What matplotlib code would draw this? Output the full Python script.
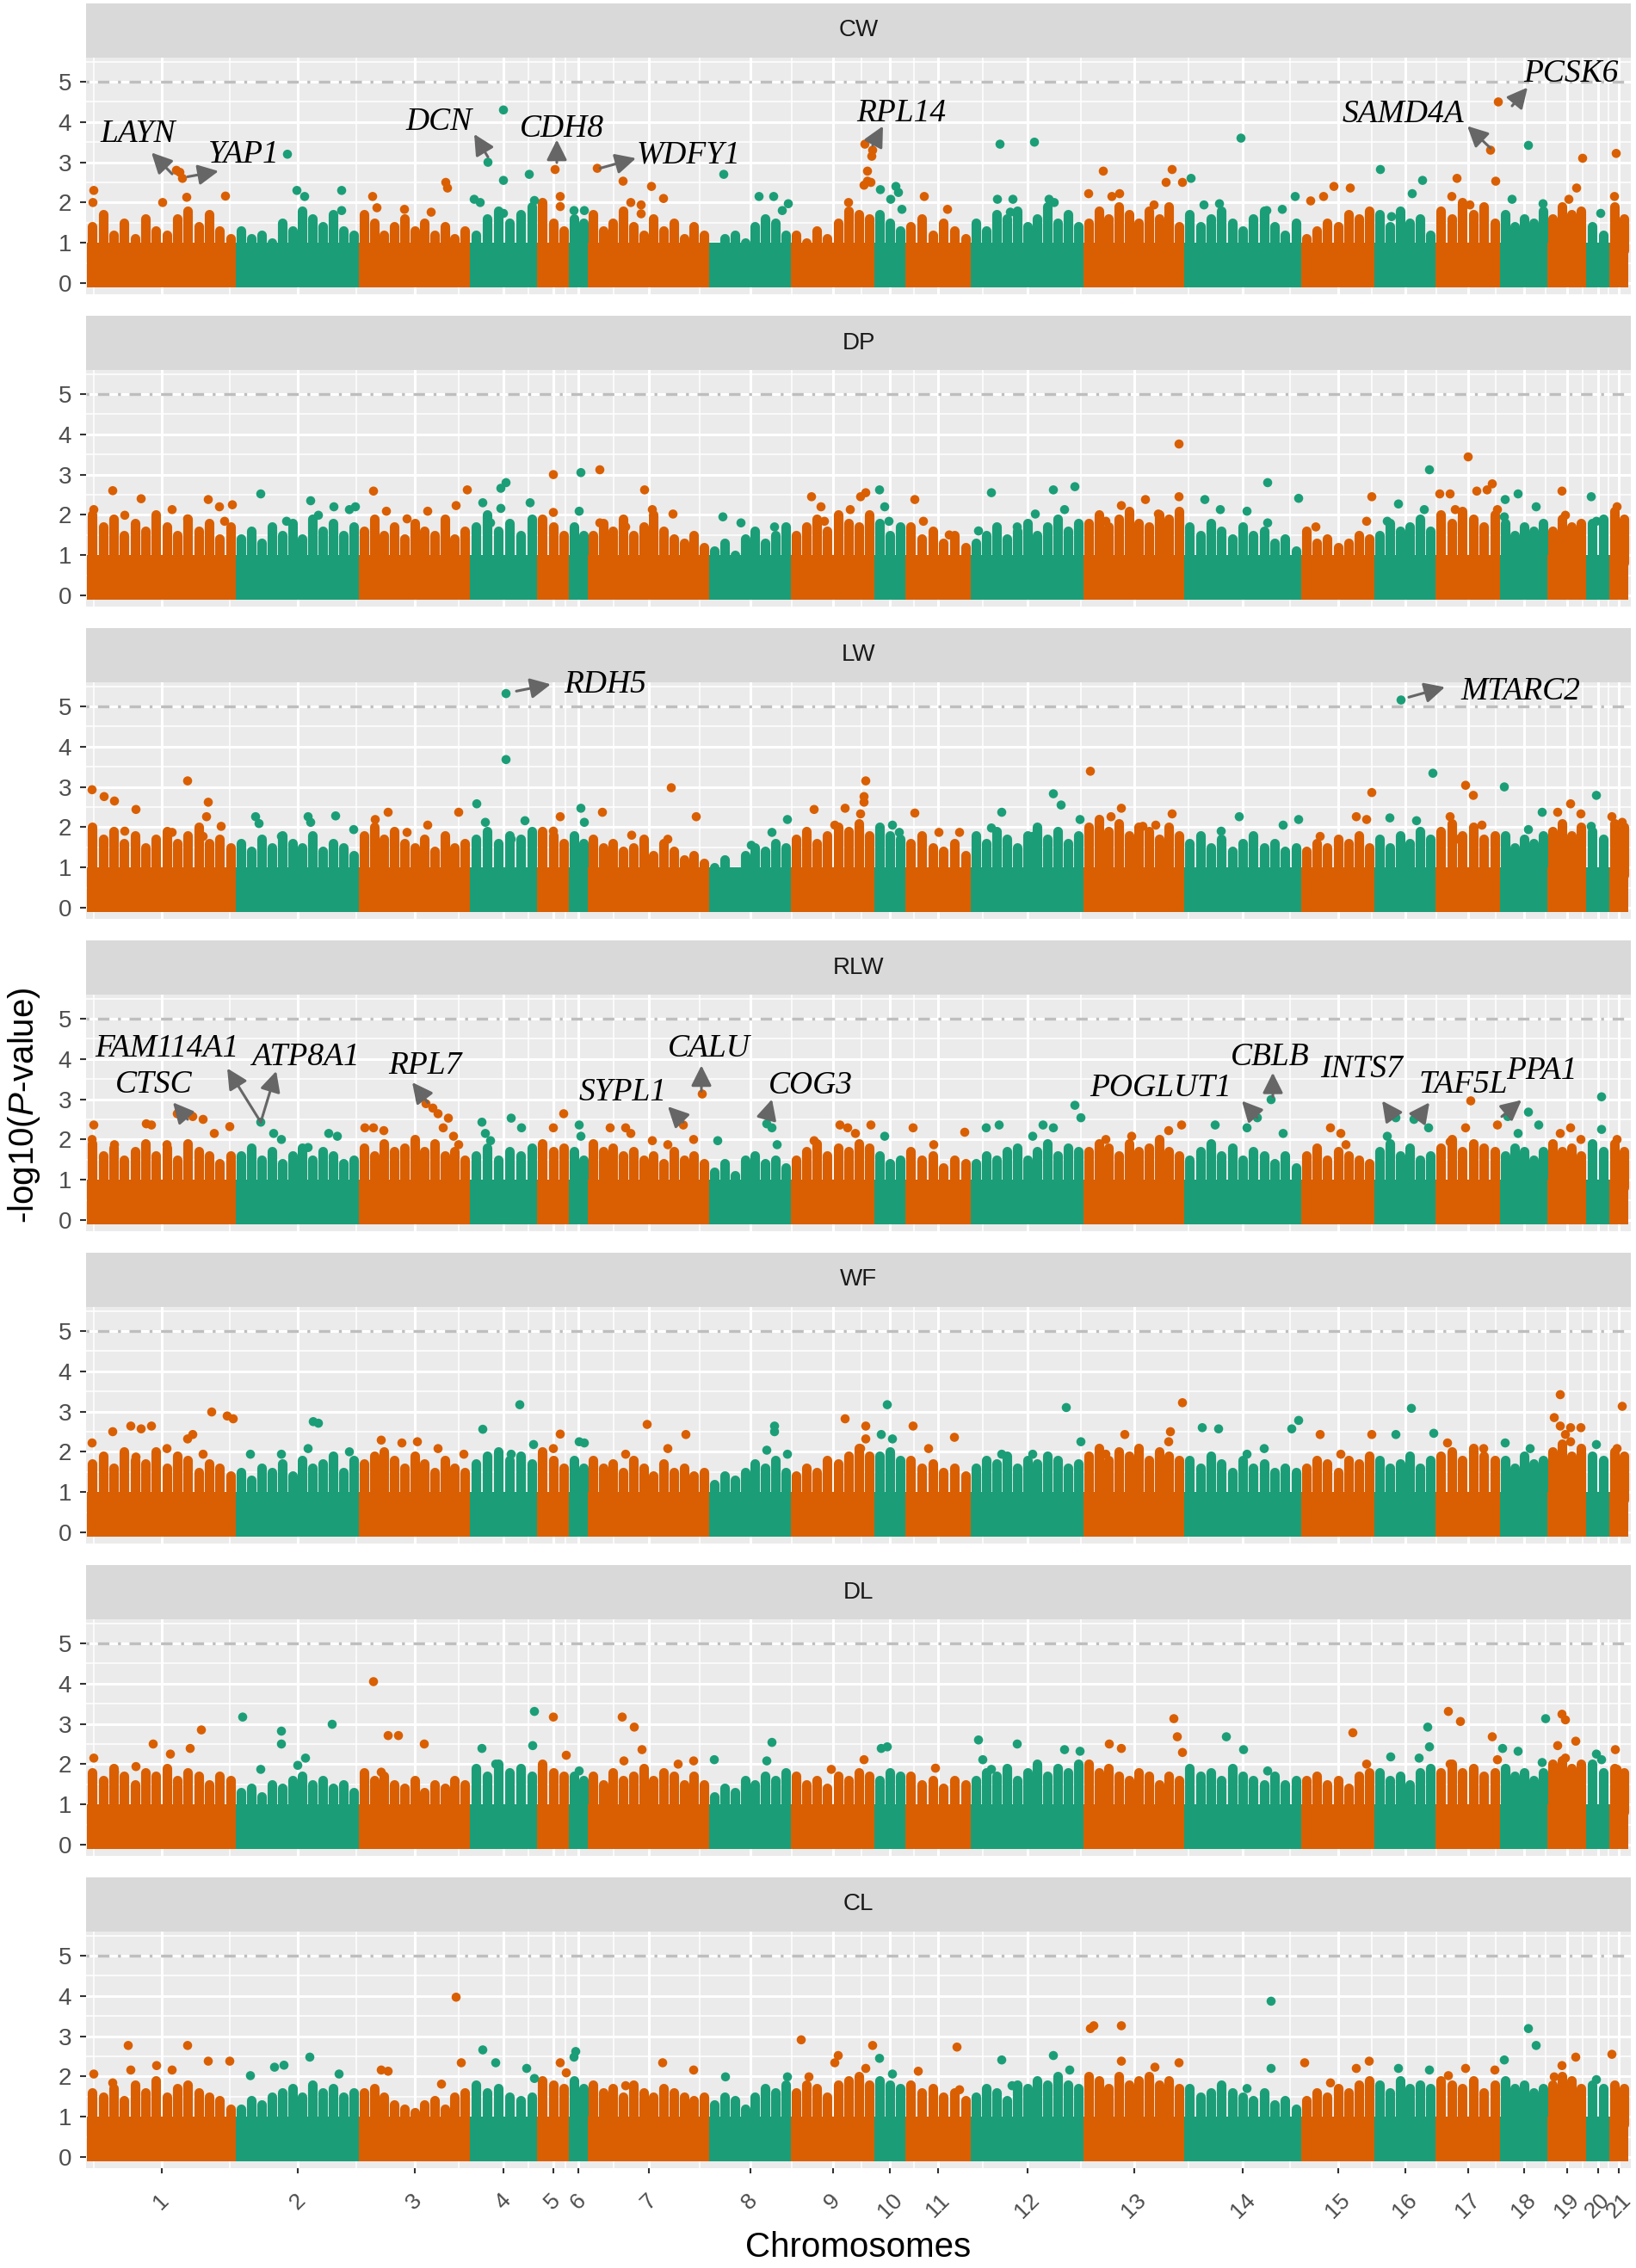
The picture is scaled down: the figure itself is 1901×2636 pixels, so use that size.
import numpy as np
import matplotlib
matplotlib.use("Agg")
import matplotlib.pyplot as plt
from matplotlib.collections import LineCollection

plt.rcParams['font.family'] = ['Liberation Sans', 'DejaVu Sans']
plt.rcParams['mathtext.fontset'] = 'custom'
plt.rcParams['mathtext.rm'] = 'Liberation Sans'
plt.rcParams['mathtext.it'] = 'Liberation Sans:italic'

# ---------------- data ----------------
CHROMS = [str(i) for i in range(1, 22)]
CHR_LEN = [173, 143, 129, 78, 37, 22, 141, 95, 97, 36, 76, 131, 117, 136, 85, 71, 75, 55, 45, 27, 22]
TRAITS = ["CW", "DP", "LW", "RLW", "WF", "DL", "CL"]
THRESHOLD = 5.0
BULK_BASE = 1.0   # level below which the SNP cloud is solid

# upper edge of the dense SNP cloud per chromosome (read left to right)
ENV_CW = [[1.4,1.7,1.2,1.5,1.1,1.6,1.3,1.2,1.6,1.8,1.4,1.7,1.3,1.1],
          [1.3,1.1,1.2,1.0,1.5,1.3,1.8,1.6,1.4,1.7,1.3,1.2],
          [1.7,1.5,1.2,1.4,1.6,1.3,1.5,1.2,1.4,1.1,1.3],
          [1.2,1.6,1.8,1.5,1.7,1.9],[2.0,1.5,1.3],[1.6,1.5],
          [1.7,1.3,1.5,1.8,1.4,1.2,1.6,1.3,1.5,1.1,1.4,1.2],
          [0.9,1.1,1.2,1.0,1.4,1.6,1.5,1.2],[1.2,1.0,1.3,1.1,1.5,1.8,1.7,1.6],[1.7,1.5,1.3],
          [1.4,1.6,1.2,1.5,1.3,1.1],[1.5,1.3,1.7,1.6,1.8,1.4,1.6,1.9,1.5,1.7,1.4],
          [1.5,1.8,1.6,1.9,1.7,1.5,1.8,1.6,1.9,1.4],[1.7,1.4,1.6,1.8,1.5,1.3,1.6,1.8,1.4,1.2,1.5],
          [1.1,1.3,1.5,1.4,1.7,1.6,1.8],[1.7,1.4,1.8,1.5,1.6,1.2],[1.8,1.6,2.0,1.7,1.9,1.5],
          [1.7,1.4,1.6,1.5,1.8],[1.6,1.9,1.7,1.8],[1.4,1.2],[1.9,1.6]]
ENV_DP = [[2.0,1.7,1.9,1.5,1.8,1.6,2.0,1.7,1.5,1.9,1.6,1.8,1.4,1.7],
          [1.4,1.6,1.3,1.7,1.5,1.8,1.4,1.9,1.6,1.8,1.5,1.7],
          [1.6,1.9,1.5,1.7,1.4,1.8,1.6,1.5,1.9,1.4,1.6],
          [1.7,2.0,1.6,1.8,1.5,1.9],[1.9,1.7,1.5],[1.7,1.5],
          [1.5,1.8,1.6,1.9,1.5,1.7,2.0,1.6,1.4,1.3,1.5,1.2],
          [1.1,1.3,1.0,1.4,1.6,1.3,1.5,1.7],[1.5,1.7,1.9,1.6,2.0,1.8,1.7,2.0],[1.8,1.5,1.7],
          [1.7,1.4,1.6,1.3,1.5,1.2],[1.3,1.5,1.7,1.4,1.6,1.8,1.5,1.7,1.9,1.6,1.8],
          [1.8,2.0,1.7,1.9,2.1,1.8,1.7,2.0,1.9,2.1],[1.7,1.5,1.8,1.6,1.4,1.7,1.5,1.6,1.3,1.4,1.1],
          [1.6,1.3,1.4,1.2,1.3,1.5,1.4],[1.5,1.8,1.6,1.7,1.9,1.6],[2.0,1.8,2.1,1.9,1.7,2.0],
          [1.8,1.5,1.7,1.6,1.8],[1.6,1.9,1.7,1.8],[1.8,1.9],[2.1,1.9]]
ENV_LW = [[2.0,1.7,1.9,1.6,1.8,1.5,1.7,1.9,1.6,1.8,2.0,1.6,1.7,1.5],
          [1.6,1.4,1.7,1.5,1.8,1.6,1.5,1.8,1.4,1.6,1.5,1.3],
          [1.8,2.0,1.7,1.9,1.6,1.5,1.7,1.4,1.8,1.5,1.6],
          [1.7,1.9,1.6,1.8,1.7,1.9],[1.9,1.8,1.6],[1.8,1.6],
          [1.7,1.5,1.6,1.4,1.5,1.7,1.3,1.6,1.4,1.2,1.3,1.1],
          [1.0,1.2,0.9,1.3,1.5,1.4,1.6,1.5],[1.7,1.9,1.6,1.8,2.0,1.9,2.1,1.8],[2.0,1.8,1.7],
          [1.6,1.8,1.5,1.4,1.6,1.3],[1.8,1.6,1.9,1.7,1.5,1.8,2.0,1.7,1.9,1.6,1.8],
          [2.0,2.2,1.9,2.1,1.8,2.0,1.9,1.7,2.0,1.8],[1.6,1.8,1.5,1.7,1.4,1.6,1.8,1.5,1.6,1.4,1.5],
          [1.4,1.6,1.5,1.7,1.6,1.8,1.5],[1.7,1.5,1.8,1.6,1.9,1.7],[1.9,2.1,1.8,2.0,1.7,1.8],
          [1.8,1.5,1.7,1.6,1.8],[1.9,2.1,1.8,2.0],[1.9,1.7],[2.1,2.0]]
ENV_RLW = [[1.9,1.6,1.8,1.5,1.7,1.9,1.6,1.8,1.5,1.9,1.7,1.6,1.4,1.6],
           [1.6,1.8,1.5,1.7,1.4,1.6,1.8,1.5,1.7,1.6,1.4,1.5],
           [1.8,1.6,1.9,1.7,1.8,2.0,1.7,1.9,1.6,1.7,1.5],
           [1.6,1.8,1.5,1.7,1.6,1.8],[1.9,1.7,1.8],[1.7,1.5],
           [1.9,1.7,1.8,1.6,1.7,1.5,1.6,1.4,1.7,1.5,1.6,1.4],
           [1.2,1.4,1.1,1.5,1.6,1.4,1.5,1.3],[1.5,1.7,1.9,1.6,1.8,1.7,1.9,1.8],[1.6,1.4,1.5],
           [1.7,1.5,1.6,1.3,1.5,1.4],[1.4,1.6,1.5,1.7,1.8,1.5,1.7,1.9,1.6,1.8,1.7],
           [1.7,1.9,1.8,1.6,1.9,1.7,1.8,2.0,1.7,1.6],[1.5,1.7,1.9,1.6,1.8,1.5,1.7,1.6,1.4,1.6,1.3],
           [1.6,1.8,1.5,1.7,1.6,1.5,1.4],[1.7,1.9,1.6,1.8,1.5,1.6],[1.8,2.0,1.7,1.9,1.8,1.7],
           [1.6,1.8,1.7,1.5,1.7],[1.9,1.7,1.8,1.6],[1.9,1.7],[1.9,1.7]]
ENV_WF = [[1.7,1.9,1.6,2.0,1.8,1.7,2.0,1.6,1.9,1.8,1.5,1.7,1.6,1.4],
          [1.5,1.3,1.6,1.5,1.7,1.4,1.8,1.6,1.7,1.9,1.5,1.8],
          [1.7,1.9,2.0,1.8,1.6,1.9,1.7,1.5,1.8,1.6,1.5],
          [1.7,1.9,2.0,1.8,1.9,1.7],[2.0,1.8,1.6],[1.8,1.6],
          [1.8,1.6,1.7,1.5,1.8,1.6,1.4,1.7,1.5,1.6,1.4,1.5],
          [1.2,1.4,1.3,1.5,1.7,1.6,1.8,1.5],[1.4,1.6,1.5,1.8,1.7,1.9,2.1,1.9],[1.9,2.0,1.8],
          [1.8,1.6,1.7,1.5,1.6,1.4],[1.6,1.8,1.7,1.9,1.6,1.8,1.7,1.9,1.8,1.6,1.7],
          [1.9,2.1,1.8,2.0,1.9,2.1,1.8,2.0,1.9,1.8],[1.8,1.6,1.9,1.7,1.5,1.8,1.6,1.7,1.5,1.6,1.5],
          [1.6,1.8,1.7,1.5,1.8,1.7,1.9],[1.8,1.6,1.7,1.9,1.6,1.8],[1.9,2.0,1.8,2.1,1.9,1.8],
          [1.8,1.6,1.9,1.7,1.8],[2.0,2.2,1.9,2.1],[1.9,1.8],[2.0,1.9]]
ENV_DL = [[1.8,1.6,1.9,1.7,1.5,1.8,1.7,1.9,1.6,1.8,1.7,1.5,1.7,1.6],
          [1.3,1.4,1.2,1.5,1.4,1.6,1.7,1.5,1.6,1.4,1.5,1.3],
          [1.8,1.6,1.7,1.5,1.4,1.6,1.3,1.5,1.4,1.6,1.5],
          [1.9,1.7,2.0,1.8,1.9,1.7],[2.0,1.8,1.7],[1.7,1.6],
          [1.7,1.5,1.8,1.6,1.7,1.9,1.6,1.8,1.7,1.5,1.7,1.5],
          [1.2,1.4,1.3,1.6,1.5,1.7,1.6,1.8],[1.7,1.5,1.6,1.4,1.7,1.6,1.8,1.7],[1.6,1.8,1.7],
          [1.7,1.5,1.6,1.4,1.6,1.5],[1.6,1.8,1.7,1.9,1.6,1.8,2.0,1.7,1.9,1.8,2.0],
          [2.0,1.8,1.9,1.7,1.6,1.8,1.7,1.5,1.7,1.6],[1.9,1.7,1.8,1.6,1.9,1.7,1.6,1.5,1.7,1.5,1.6],
          [1.6,1.7,1.5,1.6,1.4,1.7,1.8],[1.8,1.6,1.7,1.5,1.8,1.9],[1.8,2.0,1.8,1.9,1.7,1.8],
          [1.9,1.7,1.8,1.6,1.8],[2.0,2.1,1.9,2.0],[2.0,1.8],[1.9,1.8]]
ENV_CL = [[1.6,1.5,1.7,1.4,1.8,1.6,1.9,1.5,1.7,1.8,1.6,1.5,1.4,1.2],
          [1.2,1.4,1.3,1.5,1.6,1.7,1.5,1.8,1.6,1.7,1.5,1.6],
          [1.6,1.7,1.5,1.3,1.2,1.1,1.3,1.4,1.2,1.5,1.6],
          [1.8,1.6,1.7,1.5,1.4,1.5],[1.9,1.8,1.7],[1.9,1.7],
          [1.8,1.6,1.7,1.5,1.8,1.6,1.5,1.7,1.6,1.5,1.4,1.5],
          [1.3,1.5,1.4,1.2,1.5,1.7,1.6,1.8],[1.6,1.8,1.7,1.5,1.8,1.9,2.0,1.8],[1.9,1.8,1.7],
          [1.8,1.6,1.7,1.5,1.6,1.4],[1.5,1.7,1.6,1.4,1.8,1.7,1.9,1.8,2.0,1.8,1.7],
          [2.0,1.9,1.7,2.0,1.8,1.9,2.0,1.8,1.9,1.7],[1.7,1.5,1.6,1.8,1.6,1.5,1.4,1.6,1.3,1.4,1.2],
          [1.4,1.6,1.5,1.7,1.6,1.8,1.9],[1.8,1.6,1.9,1.7,1.8,1.7],[1.9,1.8,1.7,1.9,1.6,1.8],
          [1.9,1.7,1.8,1.6,1.7],[1.8,2.0,1.9,1.7],[1.8,1.7],[1.8,1.7]]

# individual SNPs above the cloud: (chromosome, cumulative position, -log10 P)
PTS_CW = [(1,8,2.3),(1,7,2.0),(1,104,2.8),(1,108,2.75),(1,111,2.6),(1,88,2.0),(1,116,2.13),(1,161,2.16),
          (2,233,3.2),(2,244,2.3),(2,253,2.15),(2,296,2.3),(2,296,1.8),
          (3,332,2.15),(3,337,1.87),(3,369,1.83),(3,417,2.5),(3,419,2.36),(3,400,1.76),
          (4,466,3.0),(4,484,4.3),(4,484,2.55),(4,514,2.7),(4,450,2.08),(4,457,2.0),(4,520,2.05),(4,484,1.73),
          (5,544,2.82),(5,550,2.15),(5,550,1.9),(6,566,1.8),(6,578,1.8),
          (7,593,2.85),(7,623,2.53),(7,656,2.4),(7,632,2.0),(7,670,2.1),(7,644,1.94),(7,644,1.72),
          (8,740,2.7),(8,781,2.15),(8,798,2.15),(8,808,1.8),(8,815,1.97),
          (9,904,3.45),(9,913,3.3),(9,912,3.15),(9,907,2.78),(9,907,2.53),(9,911,2.5),(9,903,2.43),(9,885,2.0),
          (10,922,2.32),(10,940,2.4),(10,943,2.25),(10,934,2.08),(10,947,1.83),
          (11,973,2.15),(11,1000,1.83),
          (12,1061,3.45),(12,1101,3.5),(12,1058,2.08),(12,1076,2.08),(12,1118,2.08),(12,1124,2.0),(12,1073,1.76),
          (13,1181,2.78),(13,1261,2.82),(13,1254,2.5),(13,1273,2.5),(13,1164,2.22),(13,1191,2.15),(13,1200,2.22),(13,1240,1.94),
          (14,1283,2.6),(14,1341,3.6),(14,1298,1.94),(14,1316,1.97),(14,1371,1.8),(14,1389,1.83),(14,1404,2.15),
          (15,1437,2.15),(15,1449,2.4),(15,1468,2.36),(15,1422,2.04),
          (16,1503,2.82),(16,1552,2.55),(16,1540,2.22),(16,1516,1.65),
          (17,1592,2.6),(17,1631,3.3),(17,1637,2.53),(17,1586,2.15),(17,1607,1.94),(17,1640,4.5),
          (18,1675,3.42),(18,1656,2.08),(18,1692,1.97),
          (19,1738,3.1),(19,1731,2.36),(19,1722,2.08),(20,1759,1.73),(21,1777,3.22),(21,1775,2.15)]
PTS_DP = [(1,30,2.6),(1,63,2.4),(1,141,2.38),(1,169,2.25),(1,8,2.13),(1,99,2.13),(1,154,2.2),(1,44,1.99),(1,117,1.9),(1,160,1.84),
          (2,202,2.52),(2,260,2.35),(2,287,2.2),(2,305,2.13),(2,312,2.2),(2,232,1.84),(2,269,1.99),
          (3,333,2.59),(3,442,2.62),(3,348,2.09),(3,396,2.09),(3,429,2.23),(3,372,1.9),
          (4,487,2.8),(4,481,2.66),(4,460,2.3),(4,481,2.16),(4,515,2.3),(4,469,1.8),
          (5,542,3.0),(5,542,2.06),(6,574,3.05),(6,572,2.09),
          (7,596,3.12),(7,648,2.62),(7,681,2.02),(7,657,2.13),(7,596,1.8),(7,626,1.7),
          (8,739,1.95),(8,760,1.8),(8,799,1.7),
          (9,842,2.45),(9,853,2.2),(9,887,2.13),(9,899,2.45),(9,905,2.55),(9,857,1.84),
          (10,921,2.62),(10,927,2.2),(10,932,1.84),(11,962,2.38),(11,972,1.84),(11,1002,1.5),
          (12,1051,2.55),(12,1123,2.62),(12,1148,2.7),(12,1036,1.6),(12,1102,2.02),(12,1136,2.13),(12,1081,1.7),
          (13,1202,2.23),(13,1230,2.38),(13,1245,2.02),(13,1269,3.76),(13,1269,2.45),(13,1184,1.84),
          (14,1299,2.38),(14,1372,2.8),(14,1317,2.13),(14,1348,2.09),(14,1408,2.41),(14,1372,1.8),
          (15,1493,2.45),(15,1428,1.7),(15,1487,1.84),
          (16,1524,2.27),(16,1560,3.12),(16,1554,2.13),(16,1511,1.84),
          (17,1572,2.52),(17,1584,2.52),(17,1605,3.44),(17,1615,2.59),(17,1627,2.62),(17,1590,2.13),(17,1639,2.13),(17,1633,2.77),
          (18,1648,2.38),(18,1663,2.52),(18,1684,2.2),(18,1647,1.95),
          (19,1714,2.59),(19,1718,1.99),(20,1748,2.45),(20,1754,1.84),(21,1778,2.2)]
PTS_LW = [(1,6,2.93),(1,20,2.76),(1,32,2.65),(1,57,2.44),(1,117,3.15),(1,141,2.62),(1,139,2.26),(1,156,2.02),(1,44,1.9),(1,99,1.87),(1,135,1.77),
          (2,196,2.26),(2,257,2.26),(2,289,2.28),(2,200,2.09),(2,260,2.12),(2,310,1.94),(2,226,1.77),
          (3,350,2.37),(3,432,2.37),(3,335,2.19),(3,396,2.05),(3,372,1.87),
          (4,453,2.58),(4,487,3.68),(4,487,5.32),(4,509,2.16),(4,463,2.12),(4,493,1.7),
          (5,550,2.26),(5,542,1.9),(6,574,2.47),(6,578,2.12),
          (7,599,2.37),(7,679,2.98),(7,708,2.26),(7,633,1.8),(7,675,1.7),
          (8,814,2.19),(8,796,1.87),(8,772,1.55),
          (9,845,2.44),(9,881,2.47),(9,905,3.15),(9,903,2.76),(9,903,2.62),(9,899,2.33),(9,869,2.05),
          (10,936,2.05),(10,944,1.87),(11,962,2.35),(11,990,1.87),(11,1014,1.87),
          (12,1063,2.37),(12,1123,2.83),(12,1132,2.55),(12,1051,1.98),(12,1099,1.77),(12,1154,2.19),
          (13,1166,3.39),(13,1190,2.26),(13,1202,2.47),(13,1227,2.02),(13,1242,2.05),(13,1261,2.33),
          (14,1339,2.26),(14,1318,1.9),(14,1390,2.05),(14,1408,2.19),
          (15,1493,2.86),(15,1475,2.26),(15,1487,2.19),(15,1433,1.77),
          (16,1527,5.16),(16,1564,3.34),(16,1514,2.23),(16,1545,2.16),
          (17,1602,3.04),(17,1611,2.79),(17,1584,2.26),(17,1621,2.05),(17,1594,1.7),
          (18,1647,3.0),(18,1691,2.37),(18,1675,1.94),
          (19,1709,2.37),(19,1724,2.58),(19,1736,2.33),(20,1754,2.79),(20,1748,2.02),(21,1772,2.26),(21,1784,2.12)]
PTS_RLW = [(1,8,2.36),(1,6,2.0),(1,69,2.39),(1,75,2.36),(1,105,2.64),(1,123,2.57),(1,135,2.5),(1,148,2.15),(1,166,2.32),(1,32,1.87),(1,93,1.87),
           (2,202,2.43),(2,217,2.15),(2,226,2.0),(2,281,2.15),(2,291,2.08),(2,257,1.8),
           (3,323,2.29),(3,333,2.29),(3,345,2.22),(3,394,2.89),(3,402,2.78),(3,408,2.64),(3,420,2.53),(3,414,2.29),(3,426,2.08),(3,432,1.87),
           (4,459,2.43),(4,493,2.53),(4,463,2.15),(4,505,2.29),(4,469,1.97),
           (5,554,2.64),(5,542,2.29),(6,572,2.36),(6,574,2.08),
           (7,608,2.29),(7,626,2.29),(7,632,2.15),(7,693,2.36),(7,657,1.97),(7,675,1.87),(7,715,3.13),(7,705,2.0),
           (8,733,1.97),(8,790,2.39),(8,796,2.29),(8,802,1.87),
           (9,875,2.36),(9,911,2.36),(9,893,2.15),(9,845,1.97),(9,884,2.29),
           (10,927,2.08),(11,960,2.29),(11,1020,2.18),(11,984,1.87),
           (12,1045,2.29),(12,1060,2.36),(12,1111,2.36),(12,1123,2.29),(12,1148,2.85),(12,1155,2.54),(12,1099,2.08),
           (13,1184,2.0),(13,1257,2.22),(13,1272,2.36),(13,1214,2.08),
           (14,1311,2.36),(14,1360,2.54),(14,1376,2.99),(14,1348,2.29),(14,1390,2.15),
           (15,1445,2.29),(15,1457,2.15),(15,1463,1.87),
           (16,1521,2.54),(16,1542,2.5),(16,1511,2.08),(16,1559,2.29),
           (17,1608,2.96),(17,1602,2.29),(17,1584,1.94),(17,1639,2.36),
           (18,1651,2.57),(18,1675,2.68),(18,1687,2.36),(18,1663,2.15),
           (19,1724,2.29),(19,1712,2.15),(19,1736,2.0),(20,1760,3.06),(20,1760,2.25),(21,1778,2.0)]
PTS_WF = [(1,6,2.22),(1,30,2.5),(1,51,2.64),(1,63,2.57),(1,75,2.64),(1,123,2.43),(1,117,2.32),(1,145,2.99),(1,163,2.89),(1,170,2.82),(1,57,1.87),(1,93,2.08),(1,135,1.94),
          (2,263,2.75),(2,269,2.71),(2,190,1.94),(2,226,1.94),(2,257,2.08),(2,305,2.0),
          (3,342,2.29),(3,366,2.22),(3,384,2.25),(3,408,2.08),(3,438,1.94),
          (4,460,2.56),(4,503,3.17),(4,493,1.94),(4,519,2.18),
          (5,550,2.44),(5,542,2.08),(6,572,2.25),(6,578,2.22),
          (7,651,2.68),(7,696,2.43),(7,626,1.94),(7,675,2.08),
          (8,799,2.64),(8,799,2.5),(8,790,2.04),(8,814,1.94),
          (9,881,2.82),(9,905,2.64),(9,905,2.32),(9,899,2.08),
          (10,930,3.17),(10,923,2.43),(10,936,2.32),(11,960,2.64),(11,1008,2.36),(11,978,2.08),
          (12,1138,3.1),(12,1155,2.25),(12,1063,1.94),(12,1099,1.94),
          (13,1206,2.43),(13,1259,2.5),(13,1273,3.22),(13,1257,2.25),(13,1184,1.94),
          (14,1296,2.6),(14,1315,2.57),(14,1348,1.94),(14,1368,2.08),(14,1408,2.78),(14,1400,2.57),
          (15,1433,2.43),(15,1493,2.43),(15,1457,1.94),
          (16,1521,2.43),(16,1539,3.08),(16,1565,2.46),
          (17,1581,2.22),(17,1623,2.08),(18,1648,2.22),(18,1677,2.08),
          (19,1712,3.42),(19,1705,2.85),(19,1712,2.64),(19,1724,2.6),(19,1736,2.6),(19,1718,2.43),(19,1724,2.25),
          (20,1754,2.18),(21,1784,3.13),(21,1778,2.08)]
PTS_DL = [(1,8,2.15),(1,77,2.5),(1,97,2.25),(1,120,2.39),(1,133,2.85),(1,57,1.94),(1,32,1.8),
          (2,181,3.17),(2,226,2.82),(2,226,2.5),(2,285,2.99),(2,254,2.15),(2,202,1.87),(2,245,1.97),
          (3,333,4.05),(3,350,2.71),(3,362,2.71),(3,392,2.5),(3,342,1.8),
          (4,459,2.39),(4,520,3.31),(4,518,2.46),(4,475,2.0),
          (5,542,3.17),(5,557,2.22),(6,572,1.83),
          (7,622,3.17),(7,636,2.92),(7,645,2.36),(7,624,2.08),(7,687,2.0),(7,705,2.08),
          (8,729,2.11),(8,796,2.54),(8,790,2.08),
          (9,865,1.87),(9,903,2.11),(10,923,2.39),(10,930,2.43),(11,986,1.9),
          (12,1036,2.6),(12,1041,2.11),(12,1081,2.5),(12,1136,2.36),(12,1154,2.32),(12,1051,1.87),
          (13,1188,2.5),(13,1202,2.39),(13,1263,3.13),(13,1267,2.68),(13,1273,2.29),
          (14,1324,2.68),(14,1344,2.36),(14,1372,1.83),
          (15,1471,2.78),(15,1487,2.0),
          (16,1515,2.18),(16,1548,2.15),(16,1558,2.92),(16,1560,2.43),
          (17,1582,3.31),(17,1596,3.06),(17,1633,2.68),(17,1639,2.11),(17,1584,2.0),
          (18,1645,2.39),(18,1663,2.32),(18,1691,2.04),(18,1695,3.13),
          (19,1714,3.24),(19,1718,3.1),(19,1709,2.46),(19,1730,2.57),(19,1718,2.15),
          (20,1754,2.25),(20,1760,2.11),(21,1776,2.36),(21,1778,1.87)]
PTS_CL = [(1,8,2.06),(1,48,2.77),(1,117,2.77),(1,81,2.27),(1,99,2.16),(1,141,2.38),(1,166,2.38),(1,30,1.84),(1,51,2.16),
          (2,190,2.02),(2,218,2.23),(2,229,2.28),(2,259,2.48),(2,293,2.06),
          (3,342,2.16),(3,350,2.13),(3,412,1.81),(3,429,3.97),(3,435,2.34),
          (4,460,2.66),(4,475,2.34),(4,511,2.2),(4,520,1.95),
          (5,550,2.34),(5,557,2.09),(6,568,2.62),(6,566,2.48),
          (7,669,2.34),(7,705,2.16),(7,626,1.77),(8,742,1.99),(8,814,1.99),
          (9,830,2.91),(9,839,1.99),(9,873,2.52),(9,869,2.34),(9,913,2.77),(9,905,2.2),
          (10,921,2.45),(10,936,2.06),(11,966,2.13),(11,1011,2.73),(11,1014,1.67),
          (12,1063,2.41),(12,1123,2.52),(12,1142,2.16),(12,1075,1.77),
          (13,1166,3.19),(13,1170,3.26),(13,1202,3.26),(13,1202,2.38),(13,1241,2.23),(13,1269,2.34),
          (14,1376,3.87),(14,1376,2.2),(14,1348,1.7),
          (15,1415,2.34),(15,1445,1.84),(15,1475,2.2),(15,1490,2.38),
          (16,1524,2.2),(16,1560,2.16),(17,1582,2.02),(17,1602,2.2),(17,1636,2.16),
          (18,1647,2.41),(18,1675,3.19),(18,1684,2.77),
          (19,1714,2.27),(19,1730,2.48),(19,1705,1.99),(20,1754,1.92),(21,1772,2.55)]

ENV = dict(zip(TRAITS, [ENV_CW, ENV_DP, ENV_LW, ENV_RLW, ENV_WF, ENV_DL, ENV_CL]))
PTS = dict(zip(TRAITS, [PTS_CW, PTS_DP, PTS_LW, PTS_RLW, PTS_WF, PTS_DL, PTS_CL]))

# candidate genes: (gene, label x, label y, arrow start x, y, arrow end x, y)
GENES = {
    "CW": [("LAYN", 59, 3.71, 99, 2.71, 75, 3.24), ("YAP1", 182, 3.18, 117, 2.64, 153, 2.78),
           ("DCN", 409, 4.01, 466, 3.13, 450, 3.70), ("CDH8", 552, 3.82, 546, 2.99, 546, 3.56),
           ("WDFY1", 699, 3.17, 596, 2.85, 638, 3.10), ("RPL14", 946, 4.22, 913, 3.42, 925, 3.90),
           ("SAMD4A", 1529, 4.20, 1631, 3.35, 1604, 3.90), ("PCSK6", 1724, 5.20, 1656, 4.40, 1674, 4.86)],
    "LW": [("RDH5", 602, 5.55, 499, 5.38, 539, 5.55), ("MTARC2", 1666, 5.36, 1536, 5.23, 1578, 5.48)],
    "RLW": [("CTSC", 78, 3.35, 117, 2.50, 100, 2.92), ("FAM114A1", 93, 4.26, 202, 2.43, 163, 3.77),
            ("ATP8A1", 254, 4.05, 202, 2.43, 220, 3.70), ("RPL7", 393, 3.82, 396, 2.92, 378, 3.42),
            ("SYPL1", 623, 3.17, 693, 2.43, 675, 2.82), ("CALU", 723, 4.25, 714, 3.20, 714, 3.84),
            ("COG3", 841, 3.33, 790, 2.54, 796, 3.00), ("POGLUT1", 1248, 3.27, 1360, 2.54, 1342, 2.96),
            ("CBLB", 1375, 4.04, 1378, 3.06, 1378, 3.66), ("INTS7", 1481, 3.75, 1518, 2.57, 1505, 2.96),
            ("TAF5L", 1599, 3.35, 1548, 2.57, 1560, 2.92), ("PPA1", 1690, 3.70, 1644, 2.57, 1667, 2.98)],
}

# ---------------- figure ----------------
W, H = 1901, 2636
fig = plt.figure(figsize=(W / 100, H / 100), dpi=100)
ORANGE, GREEN = '#D95F02', '#1B9E77'

lens = np.array(CHR_LEN, dtype=float)
starts = np.concatenate([[0.0], np.cumsum(lens)[:-1]])
ends = starts + lens
centers = (starts + ends) / 2
minor_x = np.concatenate([[centers[0] - (centers[1] - centers[0]) / 2], (centers[:-1] + centers[1:]) / 2])
chr_col = [ORANGE if i % 2 == 0 else GREEN for i in range(len(CHROMS))]

L, R = 100, 1895
STRIP_H, PLOT_H, STEP = 63, 275, 363

for k, trait in enumerate(TRAITS):
    st = 4 + STEP * k
    sb = st + STRIP_H
    pb = sb + PLOT_H
    sax = fig.add_axes([L / W, 1 - sb / H, (R - L) / W, STRIP_H / H], zorder=1)
    sax.set_facecolor('#D9D9D9')
    sax.set_xticks([]); sax.set_yticks([])
    for s in sax.spines.values():
        s.set_visible(False)
    sax.text(0.5, 0.5, trait, transform=sax.transAxes, ha='center', va='center',
             fontsize=20, color='#1A1A1A')

    ax = fig.add_axes([L / W, 1 - pb / H, (R - L) / W, PLOT_H / H], zorder=2)
    ax.set_facecolor('#EBEBEB')
    for s in ax.spines.values():
        s.set_visible(False)
    ax.set_xlim(-1, lens.sum() + 3)
    ax.set_ylim(-0.28, 5.6)
    ax.set_axisbelow(True)
    ax.set_xticks(centers)
    ax.set_xticks(minor_x, minor=True)
    ax.set_yticks(range(0, 6))
    ax.set_yticks(np.arange(0.5, 5.6, 1.0), minor=True)
    ax.grid(which='major', color='white', lw=2.2)
    ax.grid(which='minor', color='white', lw=1.1)
    ax.tick_params(which='minor', length=0)
    ax.tick_params(axis='y', which='major', length=5, width=1.5, color='#333333',
                   labelsize=20, labelcolor='#4D4D4D', pad=7)
    if k == len(TRAITS) - 1:
        ax.set_xticklabels(CHROMS, rotation=45, ha='center')
        ax.tick_params(axis='x', which='major', length=4, width=1.5, color='#333333',
                       labelsize=19, labelcolor='#4D4D4D', pad=14)
    else:
        ax.tick_params(axis='x', which='major', length=0, labelbottom=False)

    ax.axhline(THRESHOLD, color='#BEBEBE', lw=2.4, dashes=(1, 3, 4, 3), zorder=1.5)

    # dense SNP cloud: solid body plus columns reaching the cloud's upper edge
    for i in range(len(CHROMS)):
        col = chr_col[i]
        ax.fill_between([starts[i], ends[i]], -0.1, BULK_BASE, color=col, lw=0, zorder=2)
        env = ENV[trait][i]
        n = len(env)
        xs = starts[i] + (np.arange(n) + 0.5) / n * lens[i]
        segs = [[(x, BULK_BASE - 0.2), (x, e)] for x, e in zip(xs, env)]
        lc = LineCollection(segs, colors=col, linewidths=8.0, capstyle='round', zorder=2)
        ax.add_collection(lc)

    # individual SNPs
    pts = PTS[trait]
    px = [p[1] for p in pts]
    py = [p[2] for p in pts]
    pc = [chr_col[p[0] - 1] for p in pts]
    ax.scatter(px, py, s=58, c=pc, linewidths=0, zorder=3)

    for g, lx, ly, fx, fy, tx, ty in GENES.get(trait, []):
        ax.annotate('', xy=(tx, ty), xytext=(fx, fy),
                    arrowprops=dict(arrowstyle='-|>', color='#666666', lw=2.2,
                                    mutation_scale=36, shrinkA=0, shrinkB=0),
                    annotation_clip=False, zorder=5)
        ax.text(lx, ly, g, ha='center', va='center', fontsize=27, color='black',
                family=['Liberation Serif', 'DejaVu Serif'], style='italic',
                clip_on=False, zorder=6)

fig.text(28 / W, 1 - 1285 / H, r'-log10($\mathit{P}$-value)', rotation=90,
         ha='center', va='center', fontsize=29, color='black')
fig.text((L + R) / 2 / W, 1 - 2612 / H, 'Chromosomes', ha='center', va='center',
         fontsize=29, color='black')

fig.savefig('out.png', dpi=100)
